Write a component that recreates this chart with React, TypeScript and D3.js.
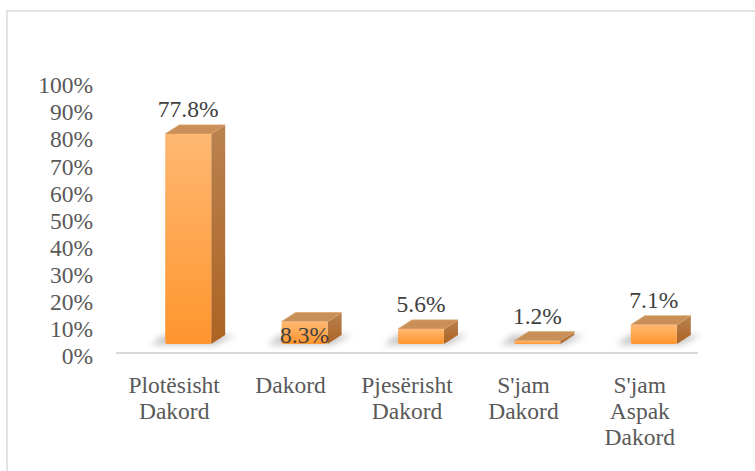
import React from "react";
import * as d3 from "d3";

const categories = ["Plotësisht Dakord", "Dakord", "Pjesërisht Dakord", "S'jam Dakord", "S'jam Aspak Dakord"];
const categoryLines = [["Plotësisht", "Dakord"], ["Dakord"], ["Pjesërisht", "Dakord"], ["S'jam", "Dakord"], ["S'jam", "Aspak", "Dakord"]];
const values = [77.8, 8.3, 5.6, 1.2, 7.1];
const ticks = [0, 10, 20, 30, 40, 50, 60, 70, 80, 90, 100];

const W = 755;
const H = 471;
const FONT = "'Liberation Serif', serif";
const FS = 23.5;

export default function App() {
  const x = d3.scaleBand<string>().domain(categories).range([116, 698]);
  const yBar = d3.scaleLinear().domain([0, 100]).range([344, 74]);
  const yTick = d3.scaleLinear().domain([0, 100]).range([356, 85]);

  const barW = 46;
  const dx = 14; // depth
  const dy = 9;
  const shift = 14; // bars sit right of category centre

  return (
    <svg width={W} height={H} style={{ position: "absolute", left: 0, top: 0, background: "#fff" }}>
      <defs>
        <linearGradient id="front" x1="0" y1="0" x2="0" y2="1">
          <stop offset="0%" stopColor="#ffb872" />
          <stop offset="100%" stopColor="#ff952e" />
        </linearGradient>
        <linearGradient id="side" x1="0" y1="0" x2="0" y2="1">
          <stop offset="0%" stopColor="#b98250" />
          <stop offset="100%" stopColor="#ad6322" />
        </linearGradient>
        <filter id="blur" x="-50%" y="-50%" width="200%" height="200%">
          <feGaussianBlur stdDeviation="3" />
        </filter>
      </defs>

      <rect x={7} y={11} width={W} height={H} fill="none" stroke="#d9d9d9" strokeWidth={1.5} />

      <line x1={116} x2={698} y1={353} y2={353} stroke="#d9d9d9" strokeWidth={2} />

      {ticks.map((t) => (
        <text key={t} x={93} y={yTick(t)} dy="0.35em" textAnchor="end" fontFamily={FONT} fontSize={FS} fill="#595959">
          {t}%
        </text>
      ))}

      {categories.map((c, i) => {
        const v = values[i];
        const cx = (x(c) as number) + x.bandwidth() / 2;
        const x0 = cx + shift - barW / 2;
        const x1 = x0 + barW;
        const yt = yBar(v);
        const yb = yBar(0);
        const shadow = `M${x0 - 14},${yb + 1} L${x0 - 2},${yb - 9} L${x1 + dx + 10},${yb - 9} L${x1 + 4},${yb + 1} Z`;
        const side = `M${x1},${yt} L${x1 + dx},${yt - dy} L${x1 + dx},${yb - dy} L${x1},${yb} Z`;
        const top = `M${x0},${yt} L${x0 + dx},${yt - dy} L${x1 + dx},${yt - dy} L${x1},${yt} Z`;
        const labelY = i === 1 ? yb - 9 : yt - dy - 16;
        return (
          <g key={c}>
            <path d={shadow} fill="#9a9a9a" opacity={0.55} filter="url(#blur)" />
            <path d={side} fill="url(#side)" />
            <path d={top} fill="#c98f58" stroke="#d9a26a" strokeWidth={0.8} strokeLinejoin="round" />
            <rect x={x0} y={yt} width={barW} height={yb - yt} rx={2} fill="url(#front)" />
            <text x={cx + shift} y={labelY} dy="0.35em" textAnchor="middle" fontFamily={FONT} fontSize={FS} fill="#404040">
              {v.toFixed(1)}%
            </text>
          </g>
        );
      })}

      {categories.map((c, i) => {
        const cx = (x(c) as number) + x.bandwidth() / 2;
        return (
          <text key={c} textAnchor="middle" fontFamily={FONT} fontSize={FS} fill="#595959">
            {categoryLines[i].map((ln, j) => (
              <tspan key={j} x={cx} y={393 + j * 26}>
                {ln}
              </tspan>
            ))}
          </text>
        );
      })}
    </svg>
  );
}
